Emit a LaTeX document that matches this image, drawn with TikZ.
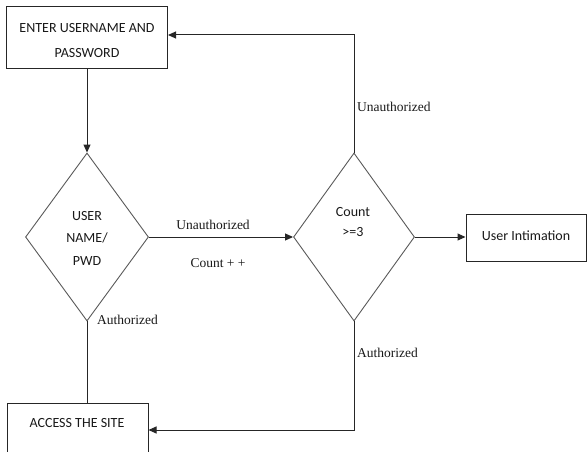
\documentclass[tikz,border=0pt]{standalone}
\usepackage{fontspec}
\setmainfont{Liberation Serif}
\newfontfamily\carl{Carlito}
\usetikzlibrary{shapes.geometric,arrows.meta}
\begin{document}
\begin{tikzpicture}[x=1pt,y=-1pt,
 line/.style={draw=black!85, line width=1pt},
 arr/.style={line,-{Triangle[length=8pt,width=7pt]}},
 box/.style={draw=black!85, line width=1pt, rectangle, inner sep=0pt},
 dia/.style={draw=black!65, line width=0.9pt, diamond, inner sep=0pt},
 boxtext/.style={font=\carl\fontsize{14}{25}\selectfont, align=center, text=black!90, inner sep=0pt},
 lab/.style={font=\fontsize{13.5}{16}\selectfont, text=black!90, inner sep=0pt}]
\useasboundingbox (0,0) rectangle (587,452);
% boxes
\node[box, minimum width=161, minimum height=62] (enter) at (87,38) {};
\node[boxtext] (entert) at (87,41) {ENTER USERNAME AND\\PASSWORD};
\node[dia, minimum width=123, minimum height=168] (d1) at (87,237) {};
\node[boxtext, font=\carl\fontsize{14}{22.5}\selectfont] (d1t) at (87,238) {USER\\NAME/\\PWD};
\node[dia, minimum width=121, minimum height=168] (d2) at (354,237) {};
\node[boxtext, font=\carl\fontsize{14}{20}\selectfont] (d2t) at (353,222) {Count\\>=3};
\node[box, minimum width=120, minimum height=47] (user) at (526,238) {};
\node[boxtext] (usert) at (526,236) {User Intimation};
\node[box, minimum width=141, minimum height=67] (access) at (77.5,436.5) {};
\node[boxtext] (accesst) at (77,423) {ACCESS THE SITE};
% connectors
\draw[arr] (enter.south) -- (d1.north);
\draw[arr] (d1.east) -- (d2.west);
\draw[arr] (d2.east) -- (d2.east -| user.west);
\coordinate (topturn) at (354,35);
\draw[arr] (d2.north) -- (topturn) -- (topturn -| enter.east);
\draw[line] (d1.south) -- (d1.south |- access.north);
\coordinate (botturn) at (354,430);
\draw[arr] (d2.south) -- (botturn) -- (botturn -| access.east);
% labels
\node[lab, anchor=west] (l1) at (357,107) {Unauthorized};
\node[lab] (l2) at (213,225) {Unauthorized};
\node[lab] (l3) at (218,263) {Count + +};
\node[lab, anchor=west] (l4) at (97,320) {Authorized};
\node[lab, anchor=west] (l5) at (357,353) {Authorized};
\end{tikzpicture}
\end{document}
